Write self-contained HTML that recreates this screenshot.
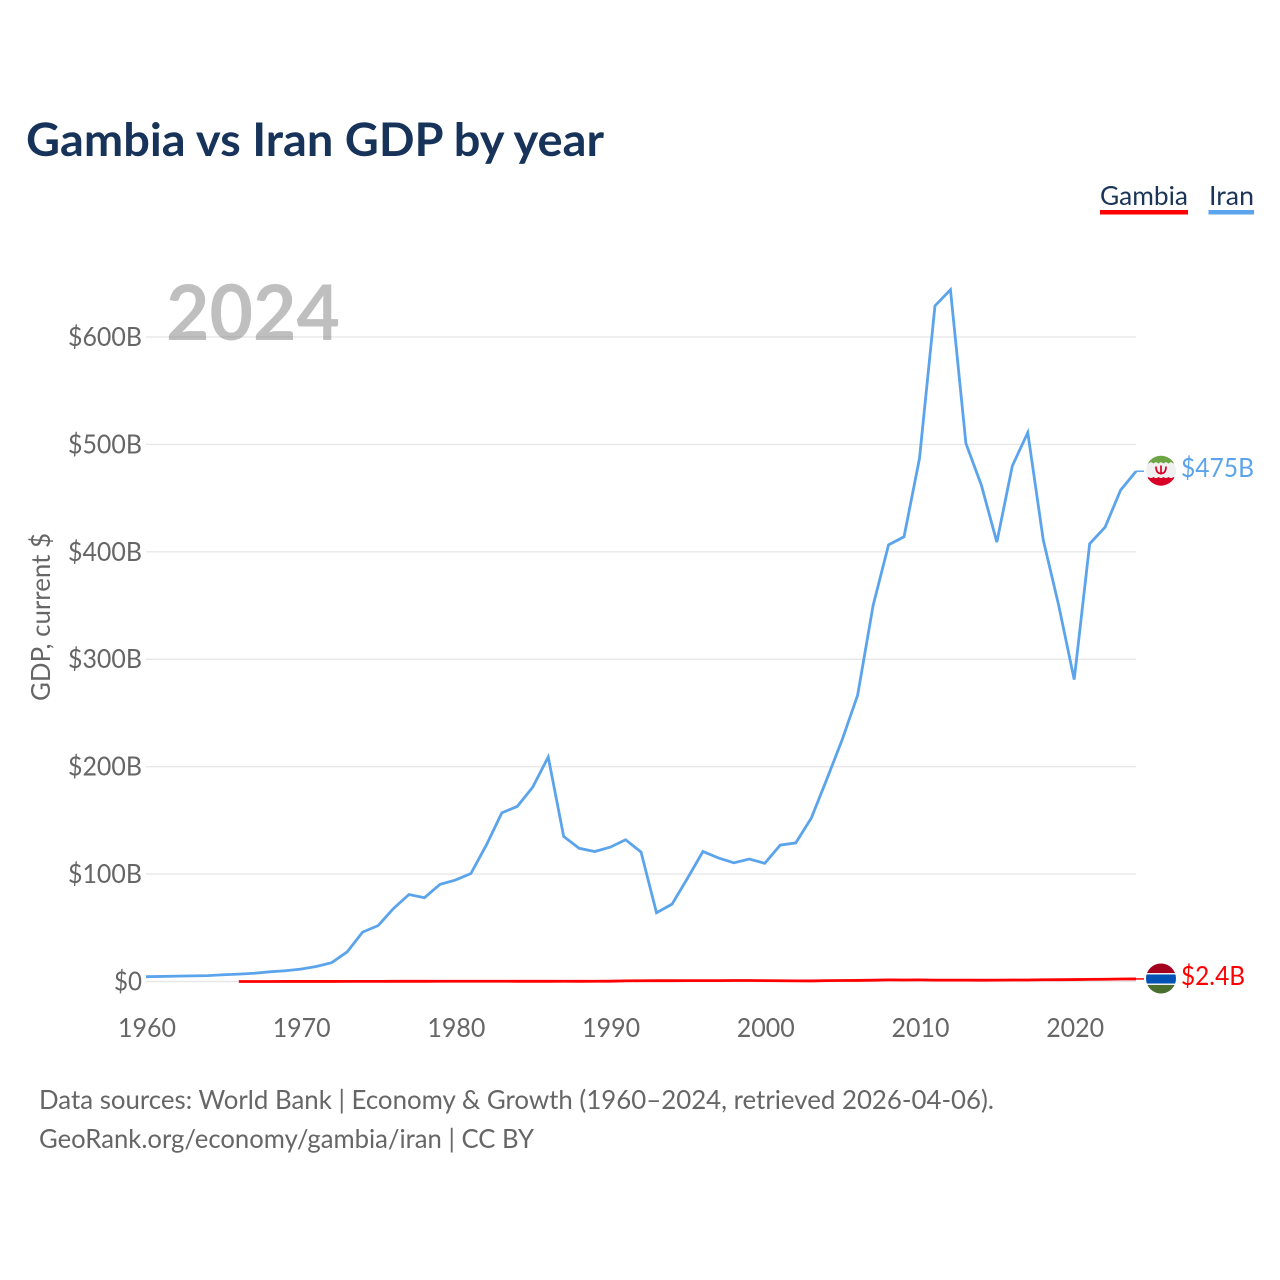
<!DOCTYPE html>
<html lang="en">
<head>
<meta charset="utf-8">
<title>Gambia vs Iran GDP by year</title>
<style>
html,body{margin:0;padding:0;background:#fff;}
svg{display:block;}
text{font-family:"Lato","Carlito","Liberation Sans",sans-serif;}
</style>
</head>
<body>
<svg id="chart" xmlns="http://www.w3.org/2000/svg" width="1280" height="1280" viewBox="0 0 1280 1280">
  <defs>
    <clipPath id="clip-iran"><circle cx="1161" cy="470.7" r="15"/></clipPath>
    <clipPath id="clip-gambia"><circle cx="1161" cy="978.5" r="15"/></clipPath>
  </defs>
  <rect x="0" y="0" width="1280" height="1280" fill="#ffffff"/>
  <text x="26" y="156" font-size="46" font-weight="700" fill="#17335a" textLength="578" lengthAdjust="spacingAndGlyphs">Gambia vs Iran GDP by year</text>
  <text x="1100" y="205" font-size="26" fill="#1a3557" textLength="88" lengthAdjust="spacingAndGlyphs">Gambia</text>
  <rect x="1100" y="210" width="88" height="4.5" fill="#ff0000"/>
  <text x="1209" y="205" font-size="26" fill="#1a3557" textLength="45" lengthAdjust="spacingAndGlyphs">Iran</text>
  <rect x="1208.5" y="210" width="45.5" height="4.5" fill="#5ba4ec"/>
  <g id="grid"></g>
  <text x="166" y="340" font-size="77" font-weight="700" fill="#808080" fill-opacity="0.5" textLength="174" lengthAdjust="spacingAndGlyphs">2024</text>
  <g id="y-ticks"></g>
  <g id="x-ticks"></g>
  <text transform="translate(50,617) rotate(-90)" text-anchor="middle" font-size="26" fill="#666666" textLength="168" lengthAdjust="spacingAndGlyphs">GDP, current $</text>
  <polyline id="line-iran" fill="none" stroke="#5ba4ec" stroke-width="2.8" stroke-linejoin="miter"/>
  <polyline id="line-gambia" fill="none" stroke="#ff0000" stroke-width="2.8" stroke-linejoin="miter"/>
  <line id="conn-iran" stroke="#5ba4ec" stroke-width="1.5"/>
  <line id="conn-gambia" stroke="#ff0000" stroke-width="1.5"/>
  <g clip-path="url(#clip-iran)">
    <rect x="1146" y="455" width="30" height="31" fill="#f0f0f0"/>
    <rect x="1146" y="455" width="30" height="7" fill="#6da544"/>
    <rect x="1146" y="478" width="30" height="9" fill="#d80027"/>
    <path d="M1146 462l2.5 1.500 2.500-1.500 2.500 1.500 2.500-1.500 2.500 1.500 2.500-1.500 2.500 1.500 2.500-1.500 2.500 1.500 2.500-1.500 2.500 1.500 2.500-1.500v-1h-30z" fill="#6da544"/>
    <path d="M1146 478.500l2.500-1.500 2.500 1.500 2.500-1.500 2.500 1.500 2.500-1.500 2.500 1.500 2.500-1.500 2.500 1.500 2.500-1.500 2.500 1.500 2.500-1.500 2.500 1.500v1h-30z" fill="#d80027"/>
    <path d="M1156 466.500c0 5 2 7 5 7s5-2 5-7M1161 465.500v9" fill="none" stroke="#d80027" stroke-width="1.700"/>
  </g>
  <g clip-path="url(#clip-gambia)">
    <rect x="1146" y="963" width="30" height="31" fill="#f0f0f0"/>
    <rect x="1146" y="963" width="30" height="10" fill="#a2001d"/>
    <rect x="1146" y="974.500" width="30" height="9" fill="#0052b4"/>
    <rect x="1146" y="985" width="30" height="9" fill="#496e2d"/>
  </g>
  <text id="value-iran" x="1181" y="477" font-size="26" fill="#5ba4ec" textLength="73" lengthAdjust="spacingAndGlyphs"></text>
  <text id="value-gambia" x="1181" y="985" font-size="26" fill="#ff0000" textLength="64" lengthAdjust="spacingAndGlyphs"></text>
  <text x="39" y="1109" font-size="26" fill="#666666" textLength="955" lengthAdjust="spacingAndGlyphs">Data sources: World Bank | Economy &amp; Growth (1960–2024, retrieved 2026-04-06).</text>
  <text x="39" y="1148" font-size="26" fill="#666666" textLength="495" lengthAdjust="spacingAndGlyphs">GeoRank.org/economy/gambia/iran | CC BY</text>
</svg>
<script>
const iranYears = [1960,1961,1962,1963,1964,1965,1966,1967,1968,1969,1970,1971,1972,1973,1974,1975,1976,1977,1978,1979,1980,1981,1982,1983,1984,1985,1986,1987,1988,1989,1990,1991,1992,1993,1994,1995,1996,1997,1998,1999,2000,2001,2002,2003,2004,2005,2006,2007,2008,2009,2010,2011,2012,2013,2014,2015,2016,2017,2018,2019,2020,2021,2022,2023,2024];
const iranGdp = [4.5,4.7,5,5.2,5.5,6.3,6.9,7.7,9,10,11.5,14,17.5,27.5,46,52,68,81,78,90.4,94.4,100.5,127,157,163,181,209,135,124,121,125,132,120.5,64,72,96,121,115,110.5,114,110,127,129,152,188,225,266.5,350,406.5,414,487,629,644,501,462,409,480,511,411,350,281,407.5,423,457.5,475];
const gambiaYears = [1966,1967,1968,1969,1970,1971,1972,1973,1974,1975,1976,1977,1978,1979,1980,1981,1982,1983,1984,1985,1986,1987,1988,1989,1990,1991,1992,1993,1994,1995,1996,1997,1998,1999,2000,2001,2002,2003,2004,2005,2006,2007,2008,2009,2010,2011,2012,2013,2014,2015,2016,2017,2018,2019,2020,2021,2022,2023,2024];
const gambiaGdp = [0.03,0.03,0.03,0.04,0.05,0.05,0.06,0.08,0.1,0.13,0.16,0.18,0.2,0.24,0.24,0.24,0.24,0.24,0.2,0.2,0.2,0.22,0.2,0.25,0.3,0.6,0.7,0.75,0.75,0.8,0.85,0.85,0.9,0.9,0.8,0.7,0.6,0.5,0.8,0.9,1.0,1.2,1.5,1.4,1.5,1.3,1.3,1.3,1.2,1.3,1.4,1.4,1.6,1.7,1.8,2.0,2.1,2.3,2.4];
const yTickValues = [0,100,200,300,400,500,600];
const yTickLabels = ["$0","$100B","$200B","$300B","$400B","$500B","$600B"];
const xTickYears = [1960,1970,1980,1990,2000,2010,2020];
const valueLabels = ["$475B","$2.4B"];

const NS = "http://www.w3.org/2000/svg";
const xScale = function (year) { return 146 + (year - 1960) * 15.47; };
const yScale = function (v) { return 981.5 - v * 1.0742; };
const pts = function (xs, ys) {
  return xs.map(function (x, i) { return xScale(x).toFixed(2) + "," + yScale(ys[i]).toFixed(2); }).join(" ");
};
const mk = function (parent, tag, attrs, txt) {
  const el = document.createElementNS(NS, tag);
  Object.keys(attrs).forEach(function (k) { el.setAttribute(k, attrs[k]); });
  if (txt !== undefined) el.textContent = txt;
  parent.appendChild(el);
  return el;
};
const grid = document.getElementById("grid");
const yTicks = document.getElementById("y-ticks");
const xTicks = document.getElementById("x-ticks");
yTickValues.forEach(function (v, i) {
  const g = mk(grid, "line", {x1: 146, x2: 1136, y1: yScale(v), y2: yScale(v), stroke: "#e8e8e8", "stroke-width": 1.4});
  
  
  const labelWidth = yTickLabels[i].length > 2 ? 74 : 28;
  const t = mk(yTicks, "text", {x: 142, y: yScale(v) + 9, "text-anchor": "end", "font-size": 26, fill: "#666666", textLength: labelWidth, lengthAdjust: "spacingAndGlyphs"}, yTickLabels[i]);
  
  
});
xTickYears.forEach(function (yr) {
  const t = mk(xTicks, "text", {x: xScale(yr) + 1, y: 1037, "text-anchor": "middle", "font-size": 26, fill: "#666666", textLength: 58, lengthAdjust: "spacingAndGlyphs"}, String(yr));
  
  
});
document.getElementById("line-iran").setAttribute("points", pts(iranYears, iranGdp));
document.getElementById("line-gambia").setAttribute("points", pts(gambiaYears, gambiaGdp));
const endX = xScale(2024);
const iranEnd = yScale(iranGdp[iranGdp.length - 1]);
const gambiaEnd = yScale(gambiaGdp[gambiaGdp.length - 1]);
const setLine = function (id, y) {
  const l = document.getElementById(id);
  l.setAttribute("x1", endX);
  l.setAttribute("x2", 1144);
  l.setAttribute("y1", y);
  l.setAttribute("y2", y);
};
setLine("conn-iran", iranEnd);
setLine("conn-gambia", gambiaEnd);
document.getElementById("value-iran").textContent = valueLabels[0];
document.getElementById("value-gambia").textContent = valueLabels[1];
</script>
</body>
</html>
